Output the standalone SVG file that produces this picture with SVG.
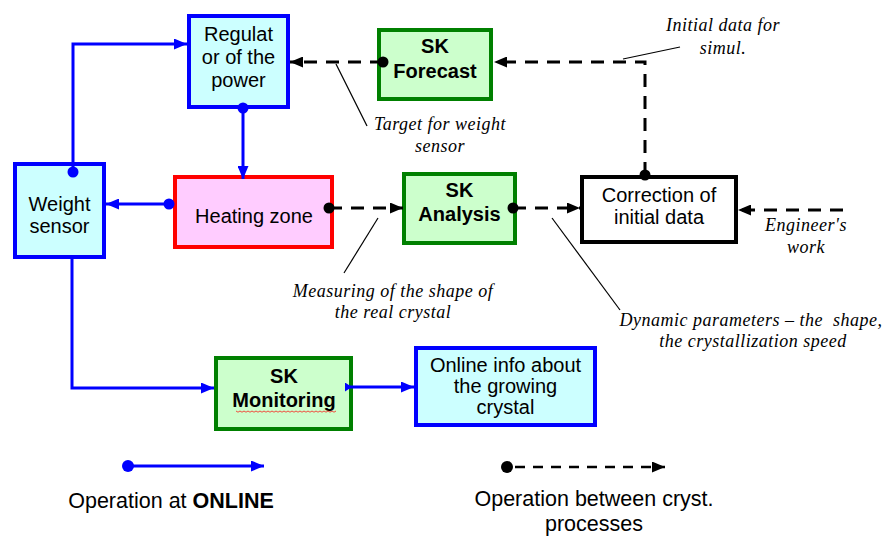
<svg xmlns="http://www.w3.org/2000/svg" width="885" height="536" viewBox="0 0 885 536">
<style>
.box{stroke-width:4}
.blueb{fill:#ccffff;stroke:#0000ff}
.greenb{fill:#ccffcc;stroke:#008000}
.redb{fill:#ffccff;stroke:#ff0000}
.blackb{fill:#ffffff;stroke:#000000}
.t{font-family:"Liberation Sans",Arial,sans-serif;font-size:20px;fill:#000;text-anchor:middle}
.b{font-weight:bold}
.lg{font-family:"Liberation Sans",Arial,sans-serif;font-size:21.5px;fill:#000;text-anchor:middle}
.note{font-family:"Liberation Serif","Times New Roman",serif;font-style:italic;font-size:18px;letter-spacing:0.5px;fill:#000;text-anchor:middle}
.bl{fill:none;stroke:#0000ff;stroke-width:3}
.dash{fill:none;stroke:#000;stroke-width:3;stroke-dasharray:13 9}
.thin{fill:none;stroke:#000;stroke-width:1.2}
.bdot{fill:#0000ff}
.kdot{fill:#000}
</style>
<defs>
<marker id="ab" markerUnits="userSpaceOnUse" markerWidth="13" markerHeight="11" refX="13" refY="5.5" orient="auto"><path d="M0,0 L13,5.5 L0,11 z" fill="#0000ff"/></marker>
<marker id="ak" markerUnits="userSpaceOnUse" markerWidth="13" markerHeight="11" refX="13" refY="5.5" orient="auto"><path d="M0,0 L13,5.5 L0,11 z" fill="#000"/></marker>
<marker id="sb" markerUnits="userSpaceOnUse" markerWidth="7" markerHeight="9" refX="1" refY="4.5" orient="auto"><path d="M0,0 L7,4.5 L0,9 z" fill="#0000ff"/></marker>
</defs>

<g id="regulator">
<rect class="box blueb" x="189" y="16" width="99" height="91"/>
<text class="t" x="238.5" y="41">Regulat</text>
<text class="t" x="238.5" y="64">or of the</text>
<text class="t" x="238.5" y="87">power</text>
</g>
<g id="weight-sensor">
<rect class="box blueb" x="15" y="164" width="89" height="93"/>
<text class="t" x="59.5" y="211">Weight</text>
<text class="t" x="59.5" y="233">sensor</text>
</g>
<g id="heating-zone">
<rect class="box redb" x="175" y="177" width="157" height="70"/>
<text class="t" x="254" y="223">Heating zone</text>
</g>
<g id="sk-forecast">
<rect class="box greenb" x="379" y="30" width="112" height="69"/>
<text class="t b" x="435" y="53">SK</text>
<text class="t b" x="435" y="78">Forecast</text>
</g>
<g id="sk-analysis">
<rect class="box greenb" x="404" y="174" width="111" height="69"/>
<text class="t b" x="459.5" y="197">SK</text>
<text class="t b" x="459.5" y="221">Analysis</text>
</g>
<g id="correction">
<rect class="box blackb" x="582" y="177" width="154" height="65"/>
<text class="t" x="659" y="202">Correction of</text>
<text class="t" x="659" y="224">initial data</text>
</g>
<g id="sk-monitoring">
<rect class="box greenb" x="216" y="358" width="135" height="71"/>
<text class="t b" x="284" y="383">SK</text>
<text class="t b" x="284" y="407">Monitoring</text>
<path d="M236,411 l2,1.2 l2,-1.2 l2,1.2 l2,-1.2 l2,1.2 l2,-1.2 l2,1.2 l2,-1.2 l2,1.2 l2,-1.2 l2,1.2 l2,-1.2 l2,1.2 l2,-1.2 l2,1.2 l2,-1.2 l2,1.2 l2,-1.2 l2,1.2 l2,-1.2 l2,1.2 l2,-1.2 l2,1.2 l2,-1.2 l2,1.2 l2,-1.2 l2,1.2 l2,-1.2 l2,1.2 l2,-1.2 l2,1.2 l2,-1.2 l2,1.2 l2,-1.2 l2,1.2 l2,-1.2 l2,1.2 l2,-1.2 l2,1.2 l2,-1.2 l2,1.2 l2,-1.2 l2,1.2 l2,-1.2 l2,1.2 l2,-1.2 l2,1.2 l2,-1.2 l2,1.2 l2,-1.2" fill="none" stroke="#ff0000" stroke-width="0.7"/>
</g>
<g id="online-info">
<rect class="box blueb" x="416" y="348" width="179" height="77"/>
<text class="t" x="505.5" y="372">Online info about</text>
<text class="t" x="505.5" y="393">the growing</text>
<text class="t" x="505.5" y="414">crystal</text>
</g>

<g id="connectors">
<path class="bl" d="M73,172 V44 H187" marker-end="url(#ab)"/>
<circle class="bdot" cx="73" cy="172" r="5.5"/>
<path class="bl" d="M243,108 V179" marker-end="url(#ab)"/>
<circle class="bdot" cx="243" cy="108" r="5.5"/>
<path class="bl" d="M169,204 H106" marker-end="url(#ab)"/>
<circle class="bdot" cx="169" cy="204" r="5.5"/>
<path class="bl" d="M72,259 V388 H214" marker-end="url(#ab)"/>
<path class="bl" d="M346,387 H414" marker-start="url(#sb)" marker-end="url(#ab)"/>

<path class="dash" d="M329,208 H403" marker-end="url(#ak)"/>
<circle class="kdot" cx="329" cy="208" r="5.5"/>
<path class="dash" d="M513,208 H580" marker-end="url(#ak)"/>
<circle class="kdot" cx="513" cy="208" r="5.5"/>
<path class="dash" d="M645,175 V62 H494" marker-end="url(#ak)"/>
<circle class="kdot" cx="645" cy="175" r="5.5"/>
<path class="dash" d="M383,62 H290" marker-end="url(#ak)"/>
<circle class="kdot" cx="383" cy="62" r="5.5"/>
<path class="dash" d="M843,210 H738" marker-end="url(#ak)"/>

<path class="thin" d="M336,64 L367,126"/>
<path class="thin" d="M623,59 L680,47"/>
<path class="thin" d="M378,218 L344,273"/>
<path class="thin" d="M552,218 L620,310"/>
</g>

<g id="annotations">
<text class="note" x="440" y="130">Target for weight</text>
<text class="note" x="440" y="152">sensor</text>
<text class="note" x="723" y="31">Initial data for</text>
<text class="note" x="723" y="54">simul.</text>
<text class="note" x="393" y="297">Measuring of the shape of</text>
<text class="note" x="393" y="318">the real crystal</text>
<text class="note" x="806" y="231">Engineer's</text>
<text class="note" x="806" y="253">work</text>
<text class="note" x="751" y="326" xml:space="preserve">Dynamic parameters – the  shape,</text>
<text class="note" x="753" y="347">the crystallization speed</text>
</g>

<g id="legend">
<path class="bl" d="M128,466 H264" marker-end="url(#ab)"/>
<circle class="bdot" cx="128" cy="466" r="6"/>
<text class="lg" x="171" y="508">Operation at <tspan font-weight="bold">ONLINE</tspan></text>
<path d="M515,467 H665" fill="none" stroke="#000" stroke-width="2.5" stroke-dasharray="10 8" marker-end="url(#ak)"/>
<circle class="kdot" cx="507" cy="467" r="6"/>
<text class="lg" x="594" y="506">Operation between cryst.</text>
<text class="lg" x="594" y="531">processes</text>
</g>
</svg>
